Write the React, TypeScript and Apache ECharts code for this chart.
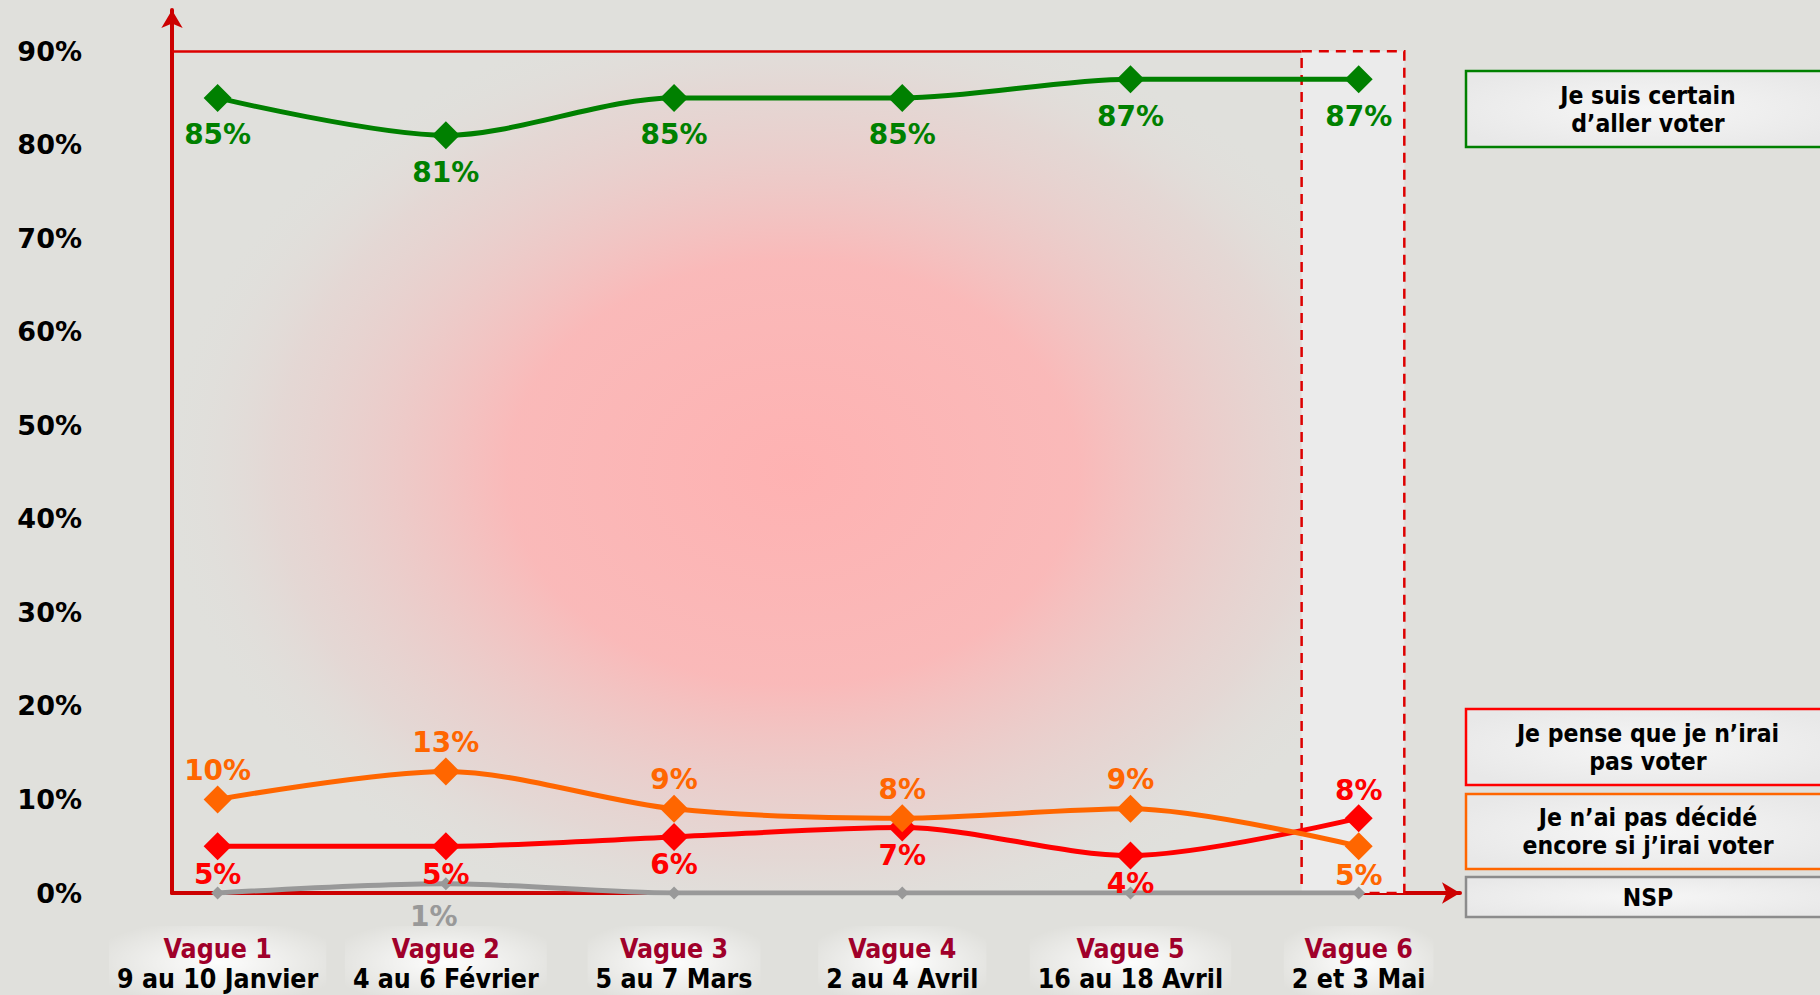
import React, { useEffect, useRef } from "react";
import * as echarts from "echarts";

const categories = ["Vague 1", "Vague 2", "Vague 3", "Vague 4", "Vague 5", "Vague 6"];
const dates = ["9 au 10 Janvier", "4 au 6 Février", "5 au 7 Mars", "2 au 4 Avril", "16 au 18 Avril", "2 et 3 Mai"];

const certain = [85, 81, 85, 85, 87, 87];
const pasVoter = [5, 5, 6, 7, 4, 8];
const pasDecide = [10, 13, 9, 8, 9, 5];
const nsp = [0, 1, 0, 0, 0, 0];

const certainLabelPos = ["bottom", "bottom", "bottom", "bottom", "bottom", "bottom"];
const pasVoterLabelPos = ["bottom", "bottom", "bottom", "bottom", "bottom", "top"];
const pasDecideLabelPos = ["top", "top", "top", "top", "top", "bottom"];

const legendItems = [
  { text: "Je suis certain\nd’aller voter", color: "#008000", y: 71, h: 76 },
  { text: "Je pense que je n’irai\npas voter", color: "#ff0000", y: 709, h: 76 },
  { text: "Je n’ai pas décidé\nencore si j’irai voter", color: "#ff6600", y: 794, h: 75 },
  { text: "NSP", color: "#8c8c8c", y: 877, h: 40 },
];

const FONT_C = "'DejaVu Sans Condensed', 'DejaVu Sans', sans-serif";
const FONT_N = "'DejaVu Sans', sans-serif";
const AXIS_RED = "#cc0000";

function buildSeries(
  name: string,
  values: number[],
  color: string,
  positions: string[],
  z: number,
  distance: number
) {
  return {
    name,
    type: "line",
    z,
    smooth: 0.3,
    symbol: "diamond",
    symbolSize: 28,
    lineStyle: { color, width: 5 },
    itemStyle: { color },
    label: {
      show: true,
      color,
      fontFamily: FONT_N,
      fontWeight: "bold",
      fontSize: 28,
      distance,
      formatter: (p: any) => p.value[1] + "%",
    },
    labelLayout: { hideOverlap: false },
    data: values.map((v, i) => ({ value: [i, v], label: { position: positions[i] } })),
  };
}

export default function App() {
  const ref = useRef<HTMLDivElement>(null);

  useEffect(() => {
    document.body.style.margin = "0";
    const chart = echarts.init(ref.current!, null, { renderer: "svg" });

    const graphics: any[] = [];
    legendItems.forEach((it) => {
      graphics.push({
        type: "rect",
        shape: { x: 1466, y: it.y, width: 364, height: it.h },
        style: {
          fill: {
            type: "radial",
            x: 0.5,
            y: 0.5,
            r: 0.6,
            colorStops: [
              { offset: 0, color: "#f6f6f6" },
              { offset: 1, color: "#e8e8e8" },
            ],
          },
          stroke: it.color,
          lineWidth: 2.5,
        },
        z: 10,
      });
      graphics.push({
        type: "text",
        x: 1648,
        y: it.y + it.h / 2,
        style: {
          text: it.text,
          fill: "#000",
          font: `bold 24.5px ${FONT_C}`,
          lineHeight: 28,
          align: "center",
          verticalAlign: "middle",
        },
        z: 11,
      });
    });

    const option: any = {
      animation: false,
      backgroundColor: "#e0e0dc",
      grid: {
        left: 172,
        top: 10,
        right: 360,
        bottom: 102,
        containLabel: false,
        outerBoundsMode: "none",
      },
      xAxis: {
        type: "value",
        min: -0.2,
        max: 5.444,
        splitLine: { show: false },
        axisTick: { show: false },
        axisLine: {
          show: true,
          onZero: false,
          lineStyle: { color: AXIS_RED, width: 4 },
          symbol: ["none", "arrow"],
          symbolSize: [16, 18],
        },
        axisLabel: {
          customValues: [0, 1, 2, 3, 4, 5],
          showMinLabel: true,
          showMaxLabel: true,
          hideOverlap: false,
          margin: 33,
          formatter: (v: number) => {
            const i = Math.round(v);
            return `{v|${categories[i]}}\n{d|${dates[i]}}`;
          },
          backgroundColor: {
            type: "radial",
            x: 0.5,
            y: 0.5,
            r: 0.6,
            colorStops: [
              { offset: 0, color: "rgba(255,255,255,0.95)" },
              { offset: 1, color: "rgba(255,255,255,0)" },
            ],
          },
          padding: [6, 8, 6, 8],
          rich: {
            v: { color: "#a0002a", fontFamily: FONT_C, fontWeight: "bold", fontSize: 26.5, lineHeight: 32 },
            d: { color: "#000", fontFamily: FONT_C, fontWeight: "bold", fontSize: 26.5, lineHeight: 29 },
          },
        },
      },
      yAxis: {
        type: "value",
        min: 0,
        max: 94.4,
        interval: 10,
        splitLine: { show: false },
        axisTick: { show: false },
        axisLine: {
          show: true,
          onZero: false,
          lineStyle: { color: AXIS_RED, width: 4 },
          symbol: ["none", "arrow"],
          symbolSize: [16, 18],
        },
        axisLabel: {
          margin: 90,
          color: "#000",
          fontFamily: FONT_N,
          fontWeight: "bold",
          fontSize: 27,
          formatter: (v: number) => (Math.abs(v % 10) < 1e-6 && v <= 90 ? v + "%" : ""),
        },
      },
      graphic: graphics,
      series: [
        {
          name: "frame",
          type: "line",
          z: 0,
          data: [],
          silent: true,
          markArea: {
            silent: true,
            data: [
              [
                {
                  xAxis: -0.2,
                  yAxis: 0,
                  itemStyle: {
                    color: {
                      type: "radial",
                      x: 0.55,
                      y: 0.5,
                      r: 0.56,
                      colorStops: [
                        { offset: 0, color: "rgba(254,178,178,1)" },
                        { offset: 0.45, color: "rgba(252,182,182,0.92)" },
                        { offset: 0.82, color: "rgba(235,200,198,0.35)" },
                        { offset: 1, color: "rgba(224,224,220,0)" },
                      ],
                    },
                    borderWidth: 0,
                  },
                },
                { xAxis: 4.75, yAxis: 90 },
              ],
              [
                {
                  xAxis: 4.75,
                  yAxis: 0,
                  itemStyle: {
                    color: "#ebebeb",
                    borderColor: "#dd0000",
                    borderWidth: 2.5,
                    borderType: [10, 7],
                  },
                },
                { xAxis: 5.2, yAxis: 90 },
              ],
            ],
          },
          markLine: {
            silent: true,
            symbol: ["none", "none"],
            label: { show: false },
            lineStyle: { color: "#dd0000", width: 2.5, type: "solid" },
            data: [[{ coord: [-0.2, 90] }, { coord: [4.75, 90] }]],
          },
        },
        {
          name: "NSP",
          type: "line",
          z: 3,
          smooth: 0.3,
          symbol: "diamond",
          symbolSize: 13,
          lineStyle: { color: "#999999", width: 5 },
          itemStyle: { color: "#999999" },
          data: nsp.map((v, i) => ({
            value: [i, v],
            label: {
              show: v > 0,
              position: "bottom",
              distance: 12,
              offset: [-12, 0],
              color: "#999999",
              fontFamily: FONT_N,
              fontWeight: "bold",
              fontSize: 28,
              formatter: (p: any) => p.value[1] + "%",
            },
          })),
        },
        buildSeries("Je pense que je n’irai pas voter", pasVoter, "#ff0000", pasVoterLabelPos, 4, 0),
        buildSeries("Je n’ai pas décidé encore si j’irai voter", pasDecide, "#ff6600", pasDecideLabelPos, 5, 1),
        buildSeries("Je suis certain d’aller voter", certain, "#008000", certainLabelPos, 6, 9),
      ],
    };

    chart.setOption(option);
    return () => chart.dispose();
  }, []);

  return <div ref={ref} style={{ width: 1820, height: 995 }} />;
}
